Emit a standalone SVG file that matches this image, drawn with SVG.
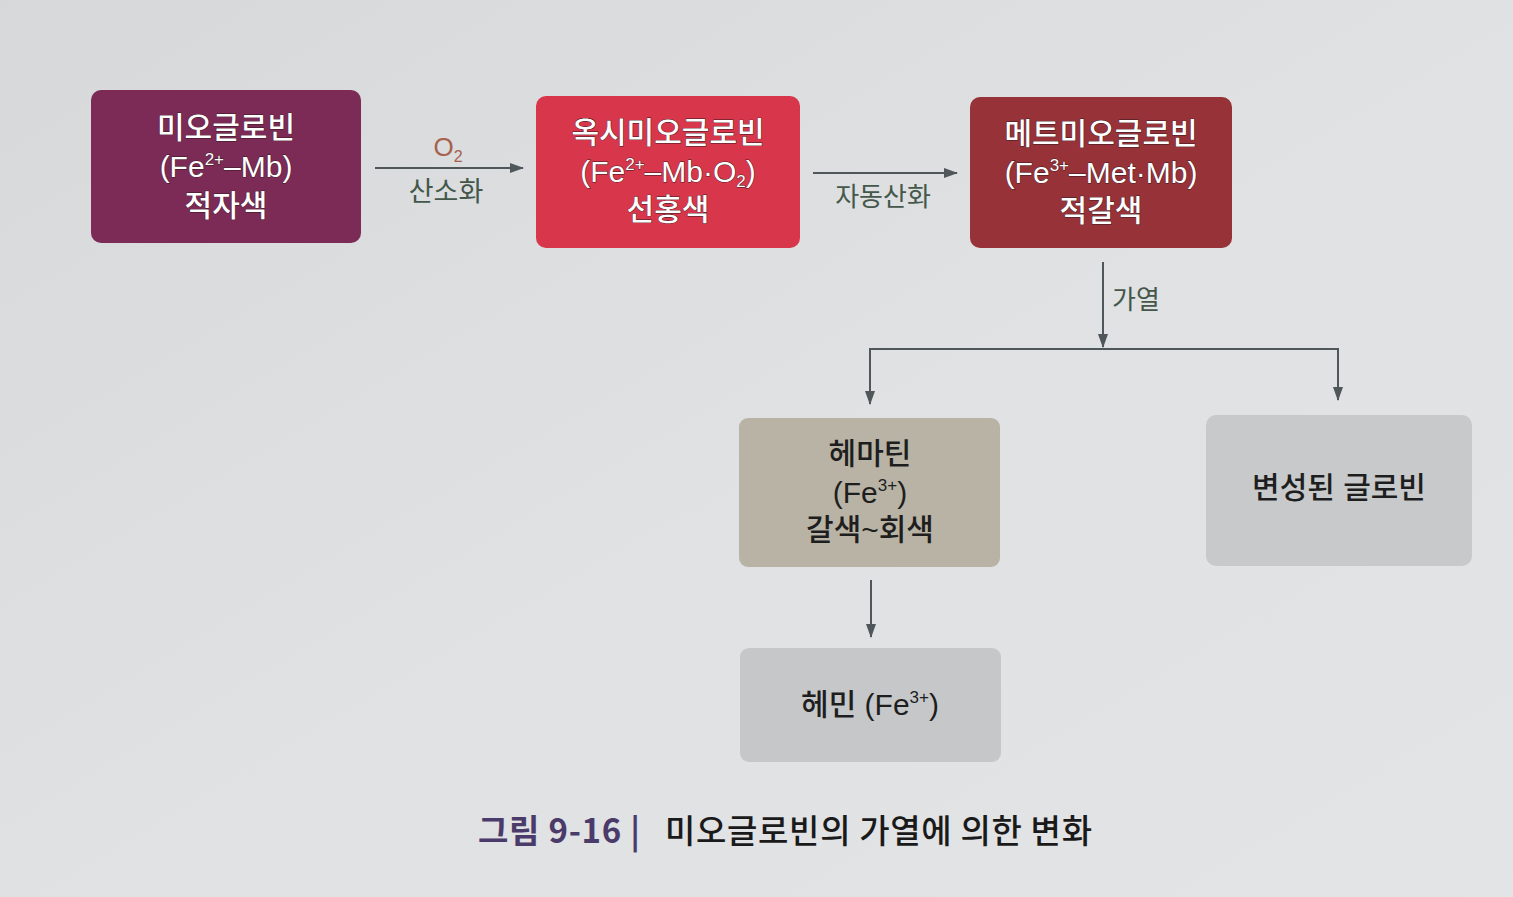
<svg xmlns="http://www.w3.org/2000/svg" width="1513" height="897" viewBox="0 0 1513 897">
<defs>
<linearGradient id="bg" x1="0" y1="0" x2="1" y2="1">
<stop offset="0" stop-color="#d6d8da"/>
<stop offset="0.5" stop-color="#dfe1e2"/>
<stop offset="1" stop-color="#e3e4e5"/>
</linearGradient>
<marker id="ah" viewBox="0 0 14 10" refX="13" refY="5" markerWidth="14" markerHeight="10" markerUnits="userSpaceOnUse" orient="auto">
<path d="M0,0 L14,5 L0,10 Z" fill="#50575b"/>
</marker>
<style>
.nt{font-family:"Liberation Sans","Noto Sans CJK KR",sans-serif;font-size:30px;font-weight:500;text-anchor:middle;fill:#ffffff;stroke:#3a1a22;stroke-width:0.8px;paint-order:stroke}
.dt{font-family:"Liberation Sans","Noto Sans CJK KR",sans-serif;font-size:30px;font-weight:500;text-anchor:middle;fill:#1e1e1e}
.lb{font-family:"Liberation Sans","Noto Sans CJK KR",sans-serif;font-size:26px;text-anchor:middle;fill:#44574a}
.ln{fill:none;stroke:#50575b;stroke-width:2}
.cap{font-family:"Noto Sans CJK KR",sans-serif;font-size:33px;font-weight:500}
</style>
</defs>
<rect width="1513" height="897" fill="url(#bg)"/>

<g id="connectors">
<line class="ln" x1="375" y1="168" x2="523" y2="168" marker-end="url(#ah)"/>
<line class="ln" x1="813" y1="173" x2="957" y2="173" marker-end="url(#ah)"/>
<line class="ln" x1="1103" y1="262" x2="1103" y2="347" marker-end="url(#ah)"/>
<polyline class="ln" points="870,402 870,349 1338,349 1338,400" marker-end="url(#ah)"/>
<line class="ln" x1="870" y1="352" x2="870" y2="404" marker-end="url(#ah)"/>
<line class="ln" x1="871" y1="580" x2="871" y2="637" marker-end="url(#ah)"/>
<text class="lb" x="448" y="156" style="fill:#a8604e">O<tspan font-size="16" dy="6">2</tspan></text>
<text class="lb" x="446" y="201" style="font-size:27px">산소화</text>
<text class="lb" x="883" y="206">자동산화</text>
<text class="lb" x="1136" y="309">가열</text>
</g>

<g id="n1">
<rect x="91" y="90" width="270" height="153" rx="10" fill="#7b2b55"/>
<text class="nt" x="226" y="138">미오글로빈</text>
<text class="nt" x="226" y="177">(Fe<tspan font-size="17" dy="-12">2+</tspan><tspan dy="12">–Mb)</tspan></text>
<text class="nt" x="226" y="216">적자색</text>
</g>

<g id="n2">
<rect x="536" y="96" width="264" height="152" rx="10" fill="#d8364a"/>
<text class="nt" x="668" y="143">옥시미오글로빈</text>
<text class="nt" x="668" y="182">(Fe<tspan font-size="17" dy="-12">2+</tspan><tspan dy="12">–Mb·O</tspan><tspan font-size="17" dy="5">2</tspan><tspan dy="-5">)</tspan></text>
<text class="nt" x="668" y="220">선홍색</text>
</g>

<g id="n3">
<rect x="970" y="97" width="262" height="151" rx="10" fill="#963238"/>
<text class="nt" x="1101" y="144">메트미오글로빈</text>
<text class="nt" x="1101" y="183">(Fe<tspan font-size="17" dy="-12">3+</tspan><tspan dy="12">–Met·Mb)</tspan></text>
<text class="nt" x="1101" y="221">적갈색</text>
</g>

<g id="n4">
<rect x="739" y="418" width="261" height="149" rx="9" fill="#b8b3a5"/>
<text class="dt" x="870" y="464">헤마틴</text>
<text class="dt" x="870" y="503">(Fe<tspan font-size="17" dy="-12">3+</tspan><tspan dy="12">)</tspan></text>
<text class="dt" x="870" y="540">갈색~회색</text>
</g>

<g id="n5">
<rect x="1206" y="415" width="266" height="151" rx="10" fill="#c7c9cb"/>
<text class="dt" x="1339" y="498">변성된 글로빈</text>
</g>

<g id="n6">
<rect x="740" y="648" width="261" height="114" rx="9" fill="#c5c7c9"/>
<text class="dt" x="870" y="715">헤민 (Fe<tspan font-size="17" dy="-12">3+</tspan><tspan dy="12">)</tspan></text>
</g>

<g id="caption">
<text class="cap" x="478" y="843" fill="#4a3b6b" style="font-weight:700" textLength="162" lengthAdjust="spacing">그림 9-16 |</text>
<text class="cap" x="665" y="843" fill="#1a1a1a" textLength="427" lengthAdjust="spacing">미오글로빈의 가열에 의한 변화</text>
</g>
</svg>
